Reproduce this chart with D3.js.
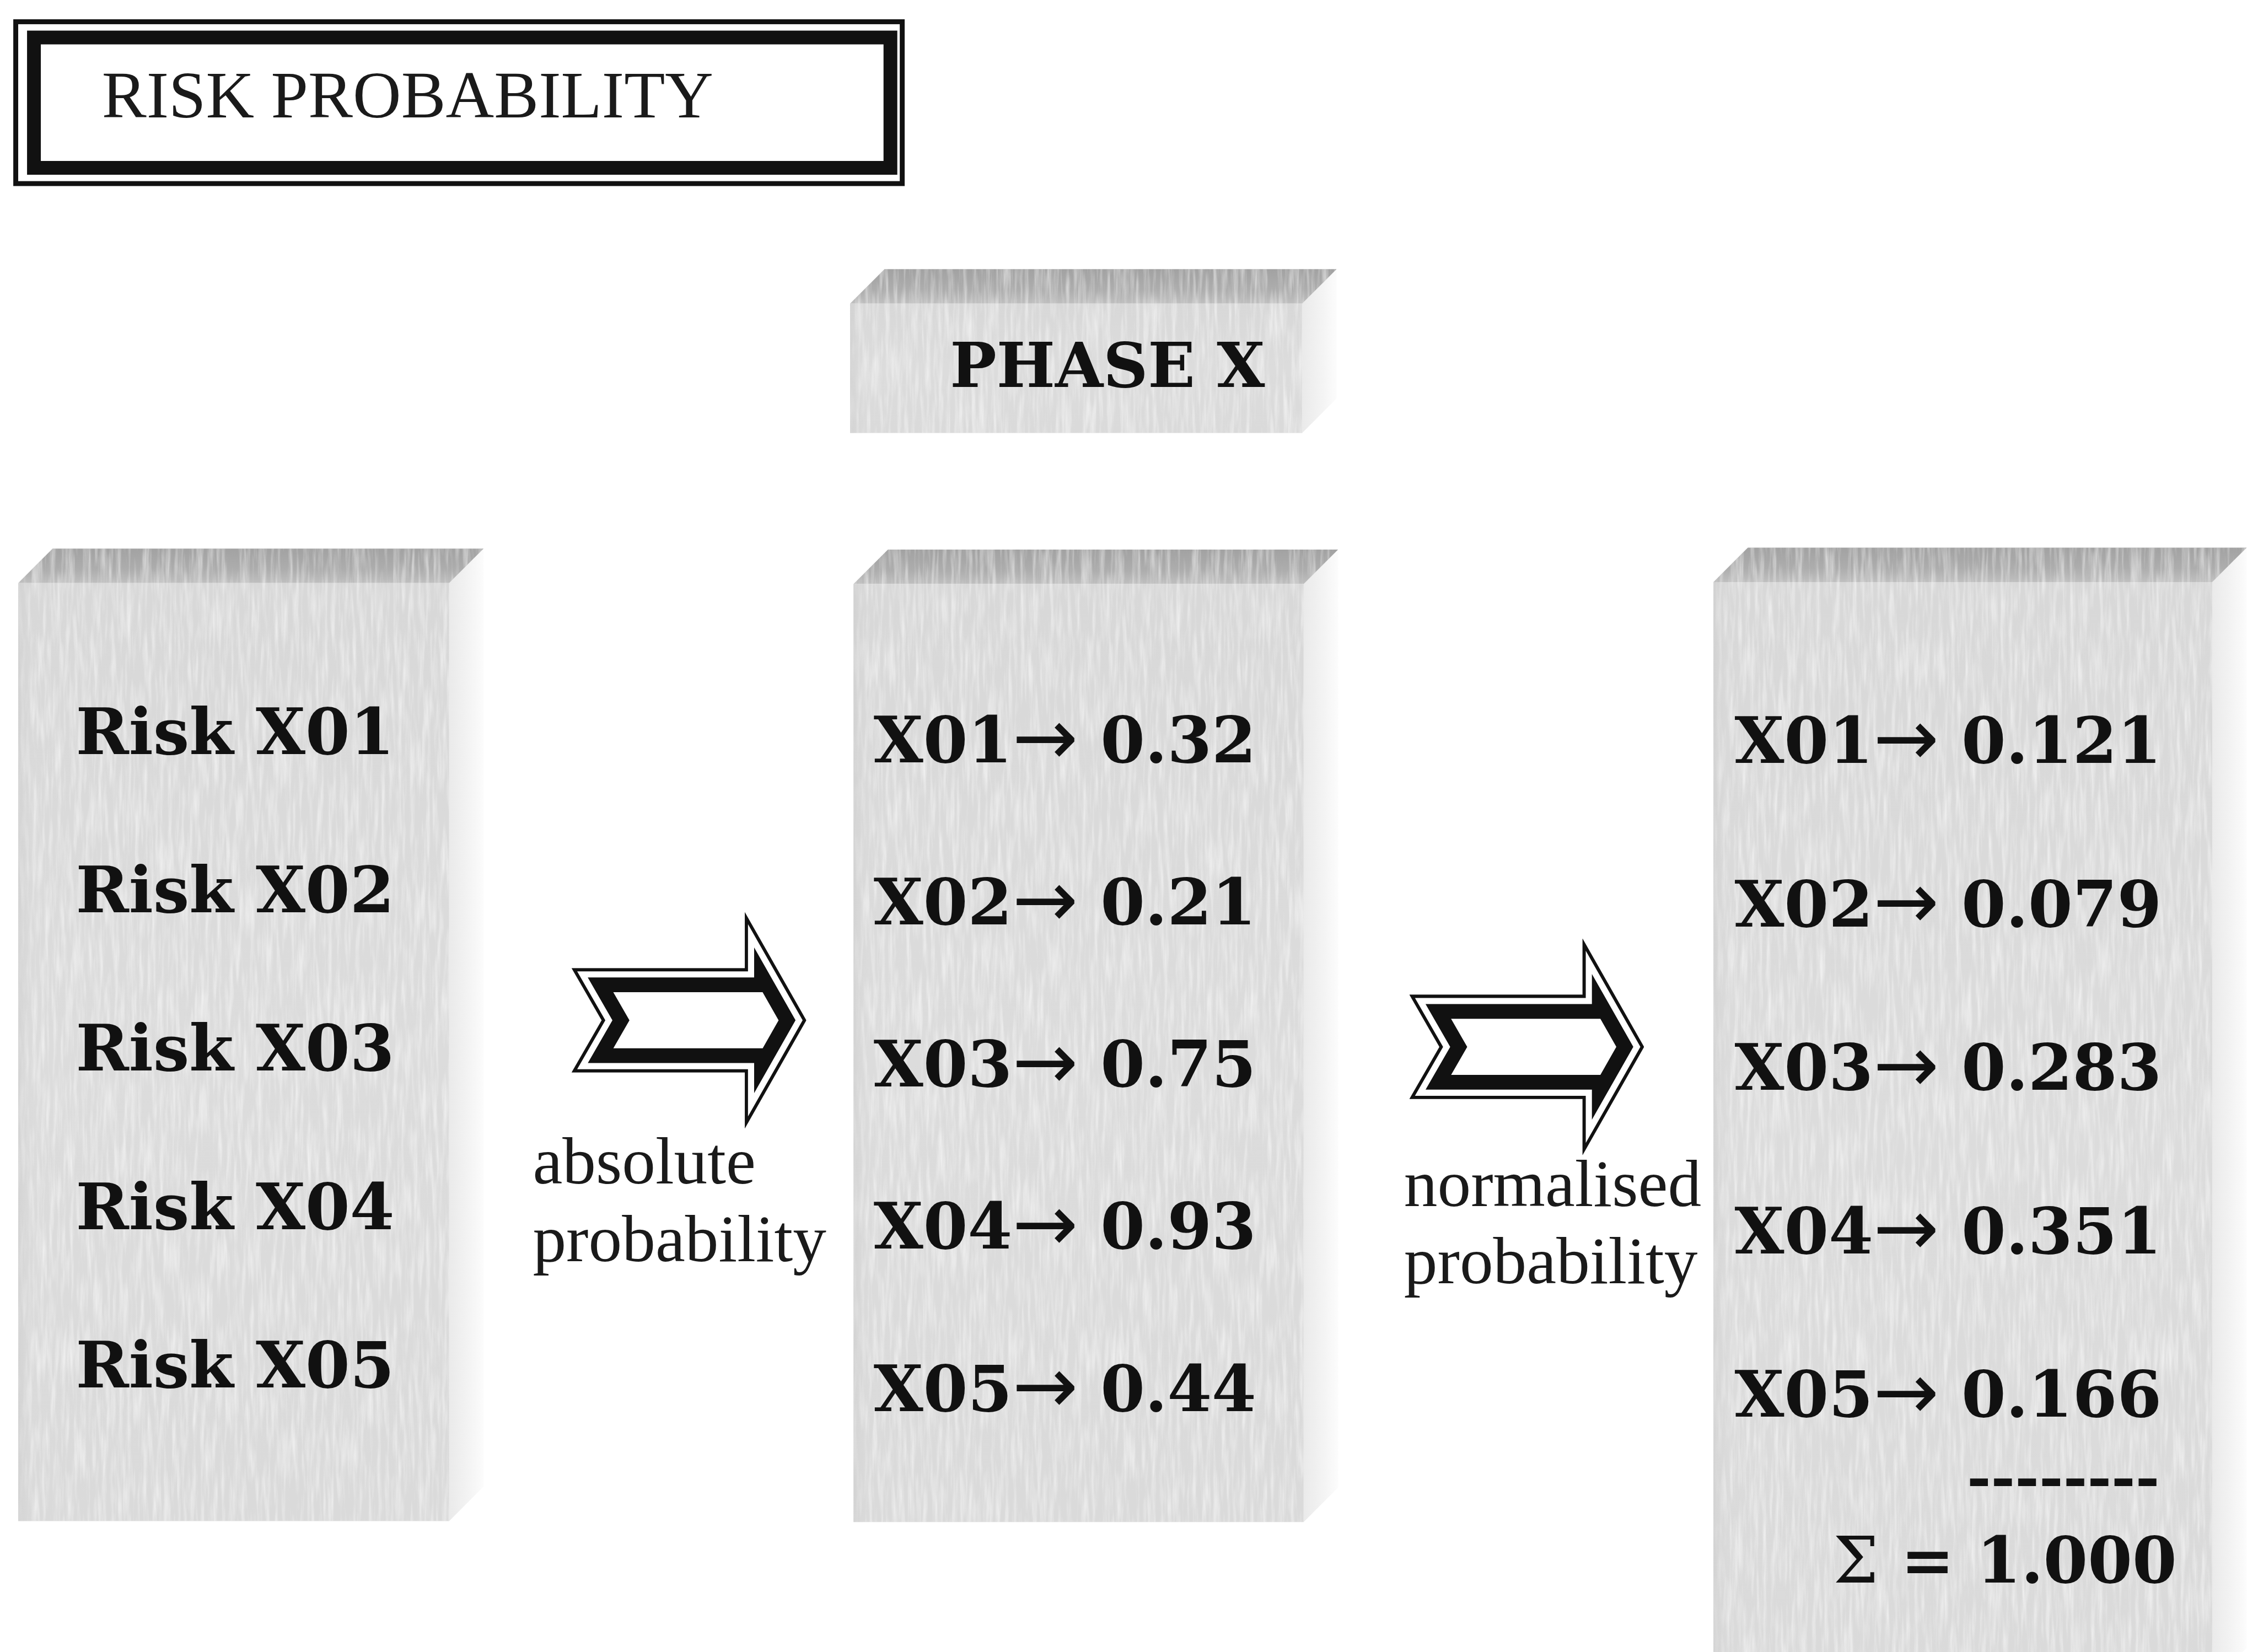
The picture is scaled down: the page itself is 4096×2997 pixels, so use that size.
<!DOCTYPE html>
<html>
<head>
<meta charset="utf-8">
<script src="https://cdn.jsdelivr.net/npm/d3@7"></script>
<style>
  html, body { margin: 0; padding: 0; background: #fff; }
  svg { display: block; }
</style>
</head>
<body>
<div id="chart"></div>
<script>
// reference is 4590 x 3358, the window is 4096 x 2997 -> viewBox does the 0.892 scaling
const REF_W = 4590, REF_H = 3358;
const WIN_W = 4096, WIN_H = 2997;

// ---- data ----
const TITLE = "RISK PROBABILITY";
const PHASE = "PHASE X";
const riskIds = ["X01", "X02", "X03", "X04", "X05"];
const absoluteProb = [0.32, 0.21, 0.75, 0.93, 0.44];
const normalisedProb = [0.121, 0.079, 0.283, 0.351, 0.166];
const normalisedSum = 1.000;
const arrowLabels = [["absolute", "probability"], ["normalised", "probability"]];

// ---- layout (reference pixels) ----
const SERIF = "'Liberation Serif', 'Times New Roman', serif";
const BOLD = "'DejaVu Serif', serif";
const DEPTH = { dx: 70, dy: -70 };

const blocks = [
  { x0: 37,   x1: 913,  y0: 1185, y1: 3092 },
  { x0: 1735, x1: 2650, y0: 1187, y1: 3094 },
  { x0: 3483, x1: 4497, y0: 1183, y1: 3420 }
];
const phaseBlock = { x0: 1728, x1: 2647, y0: 617, y1: 880 };

const svg = d3.select("#chart").append("svg")
  .attr("width", WIN_W)
  .attr("height", WIN_H)
  .attr("viewBox", `0 0 ${REF_W} ${REF_H}`);

svg.append("rect").attr("width", REF_W).attr("height", REF_H).attr("fill", "#fff");

const defs = svg.append("defs");

// gradients for the 3d faces
function grad(id, stops, horizontal) {
  const g = defs.append("linearGradient").attr("id", id)
    .attr("x1", 0).attr("y1", 0)
    .attr("x2", horizontal ? 1 : 0).attr("y2", horizontal ? 0 : 1);
  stops.forEach(([o, c]) => g.append("stop").attr("offset", o).attr("stop-color", c));
}
grad("topGrad", [[0, "#a2a2a2"], [0.6, "#adadad"], [1, "#bfbfbf"]]);
grad("frontGrad", [[0, "#d8d8d8"], [0.5, "#dcdcdc"], [1, "#dadada"]]);
grad("sideGrad", [[0, "#eaeaea"], [0.6, "#f4f4f4"], [1, "#fcfcfc"]], true);
grad("edgeGrad", [[0, "#cbcbcb"], [1, "rgba(220,220,220,0)"]], true);

// fine vertical streak texture
const grain = defs.append("filter").attr("id", "grain")
  .attr("x", 0).attr("y", 0).attr("width", 1).attr("height", 1);
grain.append("feTurbulence")
  .attr("type", "fractalNoise")
  .attr("baseFrequency", "0.12 0.01")
  .attr("numOctaves", 3)
  .attr("seed", 5)
  .attr("result", "noise");
grain.append("feColorMatrix")
  .attr("in", "noise")
  .attr("type", "matrix")
  .attr("values", "0 0 0 0 1  0 0 0 0 1  0 0 0 0 1  1.1 0 0 0 -0.45")
  .attr("result", "light");
grain.append("feComposite")
  .attr("in", "light").attr("in2", "SourceGraphic").attr("operator", "in");

const poly = d3.line();

function drawBlock(b) {
  const g = svg.append("g");
  const d = DEPTH;
  const top = [[b.x0, b.y0], [b.x0 + d.dx, b.y0 + d.dy], [b.x1 + d.dx, b.y0 + d.dy], [b.x1, b.y0]];
  const side = [[b.x1, b.y0], [b.x1 + d.dx, b.y0 + d.dy], [b.x1 + d.dx, b.y1 + d.dy], [b.x1, b.y1]];
  const front = [[b.x0, b.y0], [b.x1, b.y0], [b.x1, b.y1], [b.x0, b.y1]];

  g.append("path").attr("d", poly(side) + "Z").attr("fill", "url(#sideGrad)");
  [top, front].forEach((pts, i) => {
    g.append("path").attr("d", poly(pts) + "Z")
      .attr("fill", i === 0 ? "url(#topGrad)" : "url(#frontGrad)");
    g.append("path").attr("d", poly(pts) + "Z")
      .attr("fill", "#000")
      .attr("filter", "url(#grain)");
  });
  // slightly darker left edge of the front face
  g.append("rect")
    .attr("x", b.x0).attr("y", b.y0)
    .attr("width", 36).attr("height", b.y1 - b.y0)
    .attr("fill", "url(#edgeGrad)")
    .attr("opacity", 0.5);
  return g;
}

// ---- title frame ----
const frame = svg.append("g");
frame.append("rect")
  .attr("x", 32).attr("y", 44).attr("width", 1802).attr("height", 329)
  .attr("fill", "#fff").attr("stroke", "#111").attr("stroke-width", 10);
frame.append("rect")
  .attr("x", 69).attr("y", 76).attr("width", 1741).attr("height", 265)
  .attr("fill", "none").attr("stroke", "#111").attr("stroke-width", 28);
frame.append("text")
  .attr("x", 207).attr("y", 238)
  .attr("font-family", SERIF)
  .attr("font-size", 136)
  .attr("fill", "#1a1a1a")
  .text(TITLE);

// ---- phase block ----
drawBlock(phaseBlock).append("text")
  .attr("x", 1931).attr("y", 787)
  .attr("font-family", BOLD)
  .attr("font-weight", "bold")
  .attr("font-size", 126)
  .attr("fill", "#111")
  .text(PHASE);

// ---- the three columns ----
const colGroups = blocks.map(drawBlock);

const fmtAbs = d3.format(".2f");
const fmtNorm = d3.format(".3f");

const columns = [
  { x: 154,  range: [1533, 2820], rows: riskIds.map(id => ({ id, label: "Risk " + id })) },
  { x: 1776, range: [1550, 2868], rows: riskIds.map((id, i) => ({ id, val: fmtAbs(absoluteProb[i]) })) },
  { x: 3526, range: [1551, 2880], rows: riskIds.map((id, i) => ({ id, val: fmtNorm(normalisedProb[i]) })) }
];

columns.forEach((col, ci) => {
  const y = d3.scalePoint().domain(riskIds).range(col.range);
  const t = colGroups[ci].selectAll("text.row")
    .data(col.rows)
    .join("text")
      .attr("class", "row")
      .attr("x", col.x)
      .attr("y", d => y(d.id))
      .attr("font-family", BOLD)
      .attr("font-weight", "bold")
      .attr("font-size", 130)
      .attr("fill", "#111");
  if (ci === 0) {
    t.text(d => d.label);
  } else {
    t.append("tspan").text(d => d.id);
    t.append("tspan")
      .attr("font-family", "'DejaVu Sans', sans-serif")
      .attr("font-weight", "normal")
      .attr("font-size", 160)
      .attr("dy", 4)
      .text("\u2192");
    t.append("tspan").attr("dy", -4).text(d => "\u00a0" + d.val);
  }
});

// sum under the normalised column
colGroups[2].append("text")
  .attr("x", 4390).attr("y", 3044)
  .attr("text-anchor", "end")
  .attr("font-family", BOLD)
  .attr("font-weight", "bold")
  .attr("font-size", 118)
  .attr("fill", "#111")
  .text("--------");
const sumText = colGroups[2].append("text")
  .attr("x", 4425).attr("y", 3217)
  .attr("text-anchor", "end")
  .attr("font-family", BOLD)
  .attr("font-weight", "bold")
  .attr("font-size", 130)
  .attr("fill", "#111");
sumText.append("tspan").attr("font-weight", "normal").text("\u03a3");
sumText.append("tspan").text(" = " + d3.format(".3f")(normalisedSum));

// ---- big outlined arrows ----
const arrowShape = [[0, -106], [352, -106], [352, -220], [477, 0], [352, 220], [352, 106], [0, 106], [61, 0]];
const arrows = [
  { x: 1162, y: 2074, lx: 1083, ly: 2406, gap: 158 },
  { x: 2865, y: 2128, lx: 2854, ly: 2452, gap: 156 }
];

arrows.forEach((a, i) => {
  const pts = arrowShape.map(([px, py]) => [a.x + px, a.y + py]);
  const dPath = poly(pts) + "Z";
  defs.append("clipPath").attr("id", "arrowClip" + i)
    .append("path").attr("d", dPath);
  const g = svg.append("g").attr("clip-path", `url(#arrowClip${i})`);
  g.append("path").attr("d", dPath).attr("fill", "#fff");
  [[98, "#111"], [38, "#fff"], [13, "#111"]].forEach(([w, c]) => {
    g.append("path").attr("d", dPath)
      .attr("fill", "none")
      .attr("stroke", c)
      .attr("stroke-width", w)
      .attr("stroke-linejoin", "miter")
      .attr("stroke-miterlimit", 20);
  });

  svg.append("g").selectAll("text")
    .data(arrowLabels[i])
    .join("text")
      .attr("x", a.lx)
      .attr("y", (d, k) => a.ly + k * a.gap)
      .attr("font-family", SERIF)
      .attr("font-size", 136)
      .attr("fill", "#1a1a1a")
      .text(d => d);
});
</script>
</body>
</html>
